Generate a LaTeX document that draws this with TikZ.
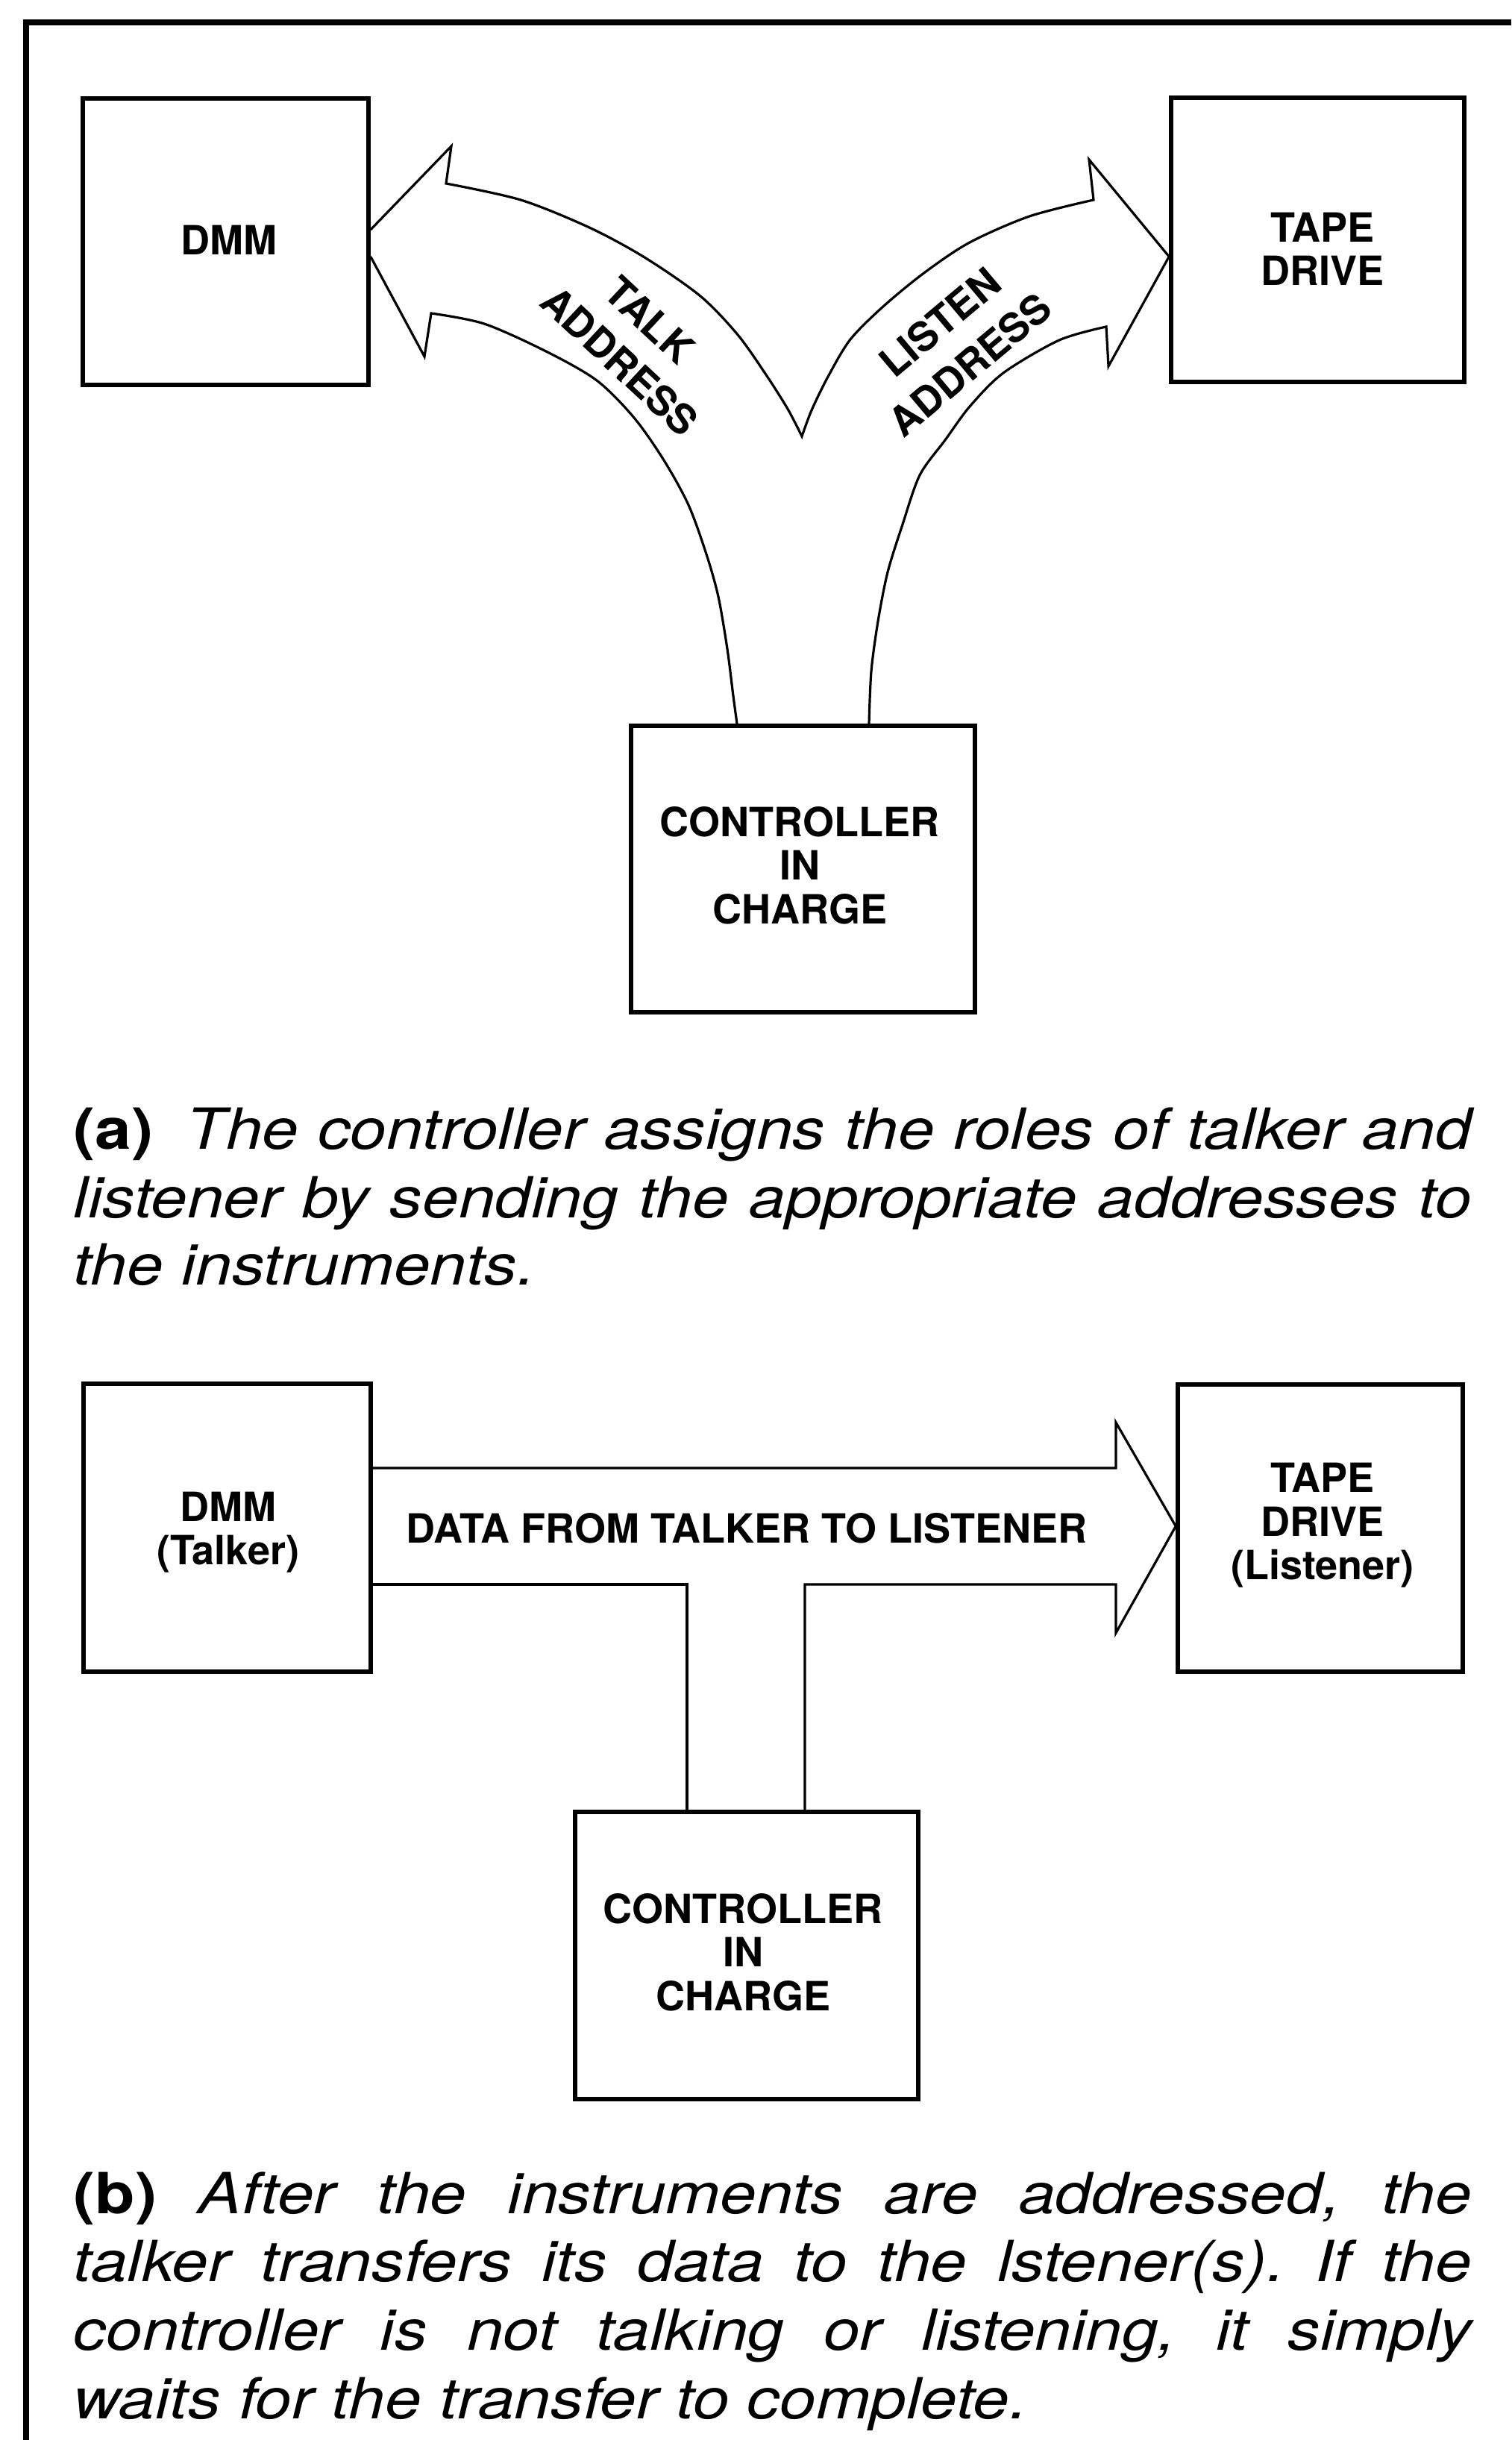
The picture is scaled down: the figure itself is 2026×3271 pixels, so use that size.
\documentclass[tikz,border=0pt]{standalone}
\usepackage{fontspec}
\newfontfamily\lblfont{TeX Gyre Heros}
\newfontfamily\capfont[FakeStretch=1.15]{TeX Gyre Heros}
\frenchspacing
\begin{document}
\begin{tikzpicture}[x=0.25pt, y=-0.25pt,
  frame/.style={line width=2.2pt, line join=miter},
  box/.style={draw, line width=1.4pt, inner sep=0pt},
  lbl/.style={font=\lblfont\bfseries\fontsize{13.5}{14.6}\selectfont, align=center, inner sep=0pt},
  outline/.style={line width=0.8pt, line join=miter},
  capline/.style={anchor=base west, inner sep=0pt, font=\capfont\fontsize{19}{22}\selectfont}
]
\useasboundingbox (0,0) rectangle (2026,3271);

% outer frame (top and left rules)
\draw[frame] (2026,30) -- (35,30) -- (35,3271);

% ---------- part (a) ----------
\node[box, minimum width=95.75pt, minimum height=96pt]   (dmmA)  at (302.5,324)  {};
\node[box, minimum width=98.25pt, minimum height=95.25pt] (tapeA) at (1766.5,321.5) {};
\node[box, minimum width=115.25pt, minimum height=96pt]  (ctrlA) at (1076.5,1165) {};

\node[lbl] (dmmAtxt)  at (307,322)   {DMM};
\node[lbl] (tapeAtxt) at (1773,334)  {TAPE\\DRIVE};
\node[lbl] (ctrlAtxt) at (1072,1160) {CONTROLLER\\IN\\CHARGE};

% split arrow: left branch, lower edge
\draw[outline] plot[smooth] coordinates {(988,0 |- ctrlA.north) (983,933) (975,870) (963,800) (947,743) (923,677) (890,617) (850,560) (800,510) (732,471) (649,434) (578,420)}
  -- (569,478) -- (dmmA.east |- 0,344);
% upper edges of both branches and the right branch's lower edge
\draw[outline] (dmmA.east |- 0,308) -- (605,196) -- (598,246)
  -- plot[smooth] coordinates {(598,246) (698,268) (790,305) (864,345) (939,397) (990,450) (1030,507) (1057,550) (1075,585)}
  -- plot[smooth] coordinates {(1075,585) (1088,550) (1110,505) (1140,455) (1185,410) (1240,365) (1300,325) (1380,290) (1466,268)}
  -- (1460,214) -- (tapeA.west |- 0,344) -- (1486,491) -- (1483,438)
  -- plot[smooth] coordinates {(1483,438) (1420,456) (1345,500) (1300,545) (1267,590) (1233,637) (1210,703) (1190,767) (1177,833) (1168,900) (1165,0 |- ctrlA.north)};

\node[lbl, rotate=-43] (talkTxt)    at (871,429) {TALK};
\node[lbl, rotate=-43] (talkAddr)   at (831,484) {ADDRESS};
\node[lbl, rotate=40]  (listenTxt)  at (1260,432) {LISTEN};
\node[lbl, rotate=40]  (listenAddr) at (1300,489) {ADDRESS};

% caption (a)
\node[capline] (capA1) at (98,1540) {\makebox[468.5pt][s]{{\bfseries(a)}\hspace{11pt}\itshape The controller assigns the roles of talker and}};
\node[capline] (capA2) at (98,1632) {\makebox[468.5pt][s]{\itshape listener by sending the appropriate addresses to}};
\node[capline] (capA3) at (98,1722) {\itshape the instruments.};

% ---------- part (b) ----------
\node[box, minimum width=96.25pt, minimum height=96.5pt]  (dmmB)  at (304.5,2048)  {};
\node[box, minimum width=95.5pt, minimum height=96.25pt]  (tapeB) at (1770,2048.5) {};
\node[box, minimum width=115pt, minimum height=96.25pt]   (ctrlB) at (1001,2621.5) {};

% data arrow with the controller's branch below it
\draw[outline] (dmmB.east |- 0,1968) -- (1496,1968) -- (1496,1907) -- (tapeB.west |- 0,2046)
  -- (1496,2189) -- (1496,2124) -- (1079,2124) -- (1079,0 |- ctrlB.north);
\draw[outline] (dmmB.east |- 0,2124) -- (921,2124) -- (921,0 |- ctrlB.north);

\node[lbl] (dmmBtxt)  at (306,2054)  {DMM\\(Talker)};
\node[lbl] (tapeBtxt) at (1773,2045) {TAPE\\DRIVE\\(Listener)};
\node[lbl] (dataTxt)  at (1001,2049) {DATA FROM TALKER TO LISTENER};
\node[lbl] (ctrlBtxt) at (996,2617)  {CONTROLLER\\IN\\CHARGE};

% caption (b)
\node[capline] (capB1) at (98,2967) {\makebox[468.5pt][s]{{\bfseries(b)} \itshape After the instruments are addressed, the}};
\node[capline] (capB2) at (98,3058) {\makebox[468.5pt][s]{\itshape talker transfers its data to the lstener(s). If the}};
\node[capline] (capB3) at (98,3150) {\makebox[468.5pt][s]{\itshape controller is not talking or listening, it simply}};
\node[capline] (capB4) at (98,3242) {\itshape waits for the transfer to complete.};
\end{tikzpicture}
\end{document}
